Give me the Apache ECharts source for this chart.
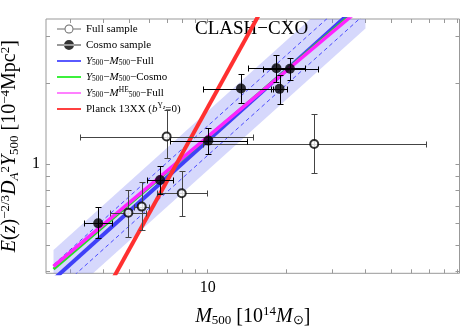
<!DOCTYPE html>
<html><head><meta charset="utf-8">
<script src="https://cdn.jsdelivr.net/npm/echarts@6/dist/echarts.min.js"></script>
<style>html,body{margin:0;padding:0;background:#fff}#c{width:464px;height:328px}</style>
</head><body><div id="c"></div>
<script>
// [M500, Y500, M_lo, M_hi, Y_lo, Y_hi]
const fullSample = [
  [4.98, 0.660, 4.24, 5.81, 0.537, 0.802],
  [5.60, 0.695, 5.24, 5.98, 0.569, 0.861],
  [7.96, 0.779, 6.38, 9.91, 0.641, 0.946],
  [6.97, 1.268, 3.25, 14.9, 1.053, 1.594],
  [25.5, 1.19, 9.6, 67.9, 0.926, 1.54]
];
const cosmoSample = [
  [3.82, 0.602, 3.38, 4.33, 0.529, 0.691],
  [6.58, 0.874, 5.88, 7.35, 0.775, 0.988],
  [10.05, 1.225, 7.18, 14.1, 1.092, 1.362],
  [13.4, 1.915, 9.57, 17.8, 1.698, 2.166],
  [18.3, 2.28, 14.2, 23.5, 2.03, 2.56],
  [20.6, 2.27, 16.2, 26.4, 2.06, 2.49],
  [18.8, 1.91, 17.5, 20.0, 1.68, 2.15]
];
const fitFullLine  = [[2.58, 0.372], [40, 4.14]];
const fitCosmoLine = [[2.58, 0.406], [40, 4.02]];
const fitHELine    = [[2.58, 0.416], [40, 3.95]];
const planckLine   = [[3, 0.194], [20, 5.54]];
// [M, lower, upper]
const scatterBand  = [[2.58, 0.289, 0.479], [40, 3.21, 5.33]];
const dashLower    = [[2.58, 0.328], [40, 3.65]];
const dashUpper    = [[2.58, 0.422], [40, 4.70]];
const xTicks = [3,4,5,6,7,8,9,10,20,30,40,50,60,70,80,90];
const yTicks = [0.4,0.5,0.6,0.7,0.8,0.9,1,2,3];
const xLabels = [10];
const yLabels = [1];
const xRange = [2.415, 91.4];
const yRange = [0.392, 3.48];

const SERIF = "'Liberation Serif','Times New Roman',serif";
const chart = echarts.init(document.getElementById('c'), null, {renderer:'canvas'});

function px(v){ return Math.round(v) + 0.5; }
function errRender(color){
  return function(params, api){
    const m=api.value(0), y=api.value(1), mlo=api.value(2), mhi=api.value(3), ylo=api.value(4), yhi=api.value(5);
    const c=api.coord([m,y]), l=api.coord([mlo,y]), r=api.coord([mhi,y]), b=api.coord([m,ylo]), t=api.coord([m,yhi]);
    const cx=px(c[0]), cy=px(c[1]), lx=px(l[0]), rx=px(r[0]), by=px(b[1]), ty=px(t[1]);
    const h=3, st={stroke:color, lineWidth:1};
    const L=(x1,y1,x2,y2)=>({type:'line', shape:{x1,y1,x2,y2}, style:st});
    return {type:'group', children:[
      L(lx,cy,rx,cy), L(lx,cy-h,lx,cy+h), L(rx,cy-h,rx,cy+h),
      L(cx,ty,cx,by), L(cx-h,ty,cx+h,ty), L(cx-h,by,cx+h,by)
    ]};
  };
}
function bandRender(params, api){
  if (params.dataIndex !== 0) return null;
  const pts = [];
  scatterBand.forEach(d => pts.push(api.coord([d[0], d[1]])));
  for (let i = scatterBand.length - 1; i >= 0; i--) pts.push(api.coord([scatterBand[i][0], scatterBand[i][2]]));
  return {type:'polygon', shape:{points:pts}, style:{fill:'rgba(120,125,245,0.30)'}};
}

const lineIcon = 'path://M0,4 L24,4 L24,6 L0,6 Z';
const fullIcon = 'path://M0,4.5 L7.5,4.5 L7.5,5.5 L0,5.5 Z M16.5,4.5 L24,4.5 L24,5.5 L16.5,5.5 Z M16.5,5 A4.5,4.5 0 1,0 7.5,5 A4.5,4.5 0 1,0 16.5,5 Z M15.5,5 A3.5,3.5 0 1,1 8.5,5 A3.5,3.5 0 1,1 15.5,5 Z';
const cosmoIcon = 'path://M0,4.5 L24,4.5 L24,5.5 L0,5.5 Z M17,5 A5,5 0 1,0 7,5 A5,5 0 1,0 17,5 Z';

const legendText = {
  'Full sample': 'Full sample',
  'Cosmo sample': 'Cosmo sample',
  'FitFull': '{i|Y}{sub|500}−{i|M}{sub|500}−Full',
  'FitCosmo': '{i|Y}{sub|500}−{i|M}{sub|500}−Cosmo',
  'FitHE': '{i|Y}{sub|500}−{i|M}{sup|HE}{sub|500}−Full',
  'Planck': 'Planck 13XX ({i|b}{sup|Y}{ssub|z}=0)'
};
const rl = 16;
const legendRich = {
  i:{fontFamily:SERIF, fontStyle:'italic', fontSize:11, lineHeight:rl},
  sub:{fontFamily:SERIF, fontSize:7.5, padding:[5,0,0,0], lineHeight:rl},
  sup:{fontFamily:SERIF, fontSize:7.5, padding:[0,0,5,0], lineHeight:rl},
  ssub:{fontFamily:SERIF, fontStyle:'italic', fontSize:6, padding:[0,0,4,0], lineHeight:rl}
};
const nameRich = {
  i:{fontFamily:SERIF, fontStyle:'italic', fontSize:20},
  n:{fontFamily:SERIF, fontSize:20},
  sub:{fontFamily:SERIF, fontSize:13, padding:[9,0,0,0]},
  isub:{fontFamily:SERIF, fontStyle:'italic', fontSize:13, padding:[9,0,0,0]},
  sup:{fontFamily:SERIF, fontSize:13, padding:[0,0,9,0]}
};

function axisCommon(extra){
  return Object.assign({
    type:'log', logBase:10,
    axisLine:{show:false},
    splitLine:{show:false},
    axisTick:{show:true, inside:true, length:4, lineStyle:{color:'#999', width:1}},
    axisLabel:{show:false}
  }, extra);
}

const option = {
  animation:false,
  backgroundColor:'#fff',
  title:{text:'CLASH−CXO', left:195, top:20, padding:0,
    textStyle:{fontFamily:SERIF, fontSize:19, fontWeight:'normal', color:'#000'}},
  grid:{left:46, right:4.5, top:19, bottom:54.7, show:true, borderColor:'#999', borderWidth:1,
    backgroundColor:'transparent', containLabel:false, outerBoundsMode:'none'},
  legend:{
    orient:'vertical', left:57, top:21, itemWidth:24, itemHeight:10, itemGap:0, padding:0,
    textStyle:{fontFamily:SERIF, fontSize:11, color:'#000', lineHeight:rl, rich:legendRich},
    formatter: n => legendText[n],
    data:[
      {name:'Full sample', icon:fullIcon, itemStyle:{color:'#444', borderWidth:0}},
      {name:'Cosmo sample', icon:cosmoIcon, itemStyle:{color:'#000', borderWidth:0}},
      {name:'FitFull', icon:lineIcon, itemStyle:{color:'#5a5aff'}},
      {name:'FitCosmo', icon:lineIcon, itemStyle:{color:'#3cf03c'}},
      {name:'FitHE', icon:lineIcon, itemStyle:{color:'#ff80ff'}},
      {name:'Planck', icon:lineIcon, itemStyle:{color:'#ff4040'}}
    ]
  },
  xAxis:[
    axisCommon({position:'bottom', min:xRange[0], max:xRange[1],
      axisTick:{show:true, inside:true, length:4, customValues:xTicks, lineStyle:{color:'#999'}},
      axisLabel:{show:true, customValues:xLabels, margin:6, fontFamily:SERIF, fontSize:16, color:'#000'},
      name:'{i|M}{sub|500} [10{sup|14}{i|M}{sub|⊙}]', nameLocation:'middle', nameGap:32,
      nameTextStyle:{fontFamily:SERIF, fontSize:20, color:'#000', rich:nameRich}}),
    axisCommon({position:'top', min:xRange[0], max:xRange[1],
      axisTick:{show:true, inside:true, length:4, customValues:xTicks, lineStyle:{color:'#999'}}})
  ],
  yAxis:[
    axisCommon({position:'left', min:yRange[0], max:yRange[1],
      axisTick:{show:true, inside:true, length:4, customValues:yTicks, lineStyle:{color:'#999'}},
      axisLabel:{show:true, customValues:yLabels, margin:6, fontFamily:SERIF, fontSize:16, color:'#000'},
      name:'{i|E}({i|z}){sup|−2/3}{i|D}{isub|A}{sup|2}{i|Y}{sub|500} [10{sup|−4}Mpc{sup|2}]',
      nameLocation:'middle', nameGap:16, nameRotate:90,
      nameTextStyle:{fontFamily:SERIF, fontSize:20, color:'#000', rich:nameRich}}),
    axisCommon({position:'right', min:yRange[0], max:yRange[1],
      axisTick:{show:true, inside:true, length:4, customValues:yTicks, lineStyle:{color:'#999'}}})
  ],
  series:[
    {name:'band', type:'custom', renderItem:bandRender, data:scatterBand.map(d=>[d[0], d[1]]), encode:{x:0,y:1}, clip:true, z:1, silent:true},
    {name:'dashLo', type:'line', data:dashLower, symbol:'none', z:2, lineStyle:{color:'#4a4aff', width:1, type:[4,3]}, silent:true},
    {name:'dashHi', type:'line', data:dashUpper, symbol:'none', z:2, lineStyle:{color:'#4a4aff', width:1, type:[4,3]}, silent:true},
    {name:'FitFull', type:'line', data:fitFullLine, symbol:'none', z:3, itemStyle:{color:'#4040f8'}, lineStyle:{color:'#4040f8', width:4}},
    {name:'FitCosmo', type:'line', data:fitCosmoLine, symbol:'none', z:4, itemStyle:{color:'#22dd22'}, lineStyle:{color:'#22dd22', width:3}},
    {name:'FitHE', type:'line', data:fitHELine, symbol:'none', z:5, itemStyle:{color:'#ff22ff'}, lineStyle:{color:'#ff22ff', width:3.5}},
    {name:'Planck', type:'line', data:planckLine, symbol:'none', z:6, itemStyle:{color:'#ff3030'}, lineStyle:{color:'#ff3030', width:4}},
    {name:'fullErr', type:'custom', renderItem:errRender('#444'), data:fullSample, encode:{x:0,y:1}, z:7, silent:true},
    {name:'cosmoErr', type:'custom', renderItem:errRender('#000'), data:cosmoSample, encode:{x:0,y:1}, z:7, silent:true},
    {name:'Full sample', type:'scatter', data:fullSample.map(d=>[d[0],d[1]]), symbol:'emptyCircle', symbolSize:8, z:8,
      itemStyle:{color:'#000', borderColor:'#000', borderWidth:1}},
    {name:'Cosmo sample', type:'scatter', data:cosmoSample.map(d=>[d[0],d[1]]), symbol:'circle', symbolSize:10, z:8,
      itemStyle:{color:'#000'}}
  ]
};
chart.setOption(option);
</script>
</body></html>
